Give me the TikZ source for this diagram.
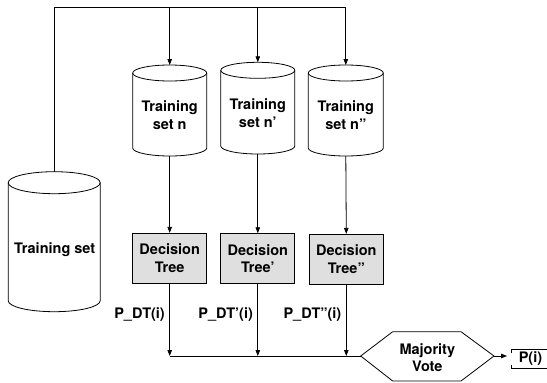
\documentclass[tikz,border=0pt]{standalone}
\usepackage{fontspec}
\setmainfont{TeX Gyre Heros}
\usetikzlibrary{arrows.meta}
\newcommand\drawcyl[5]{%
  \draw (#1,{#2+#5}) ellipse [x radius=#4pt, y radius=#5pt];
  \draw ({#1-#4},{#2+#5}) -- ({#1-#4},{#3-#5})
    arc [start angle=180, end angle=360, x radius=#4pt, y radius=#5pt]
    -- ({#1+#4},{#2+#5});}
\begin{document}
\begin{tikzpicture}[x=1pt,y=-1pt, line width=0.8pt,
  lbl/.style={font=\bfseries\fontsize{14.5}{17.5}\selectfont, align=center, inner sep=0pt},
  arr/.style={-{Triangle[length=6pt,width=4.5pt]}},
  dtbox/.style={draw, fill=gray!25, minimum width=74pt, minimum height=50pt, inner sep=0pt, lbl}]
\useasboundingbox (0,0) rectangle (547,383);
% cylinders
\drawcyl{54.2}{171.7}{311.7}{46}{11}
\drawcyl{169.7}{65}{156}{37}{8}
\drawcyl{257.8}{62.3}{154}{37}{8}
\drawcyl{345.8}{65}{156}{37.5}{8}
\coordinate (bigTop) at (54.2,171.7);
\coordinate (c1Top) at (169.7,65);   \coordinate (c1Bot) at (169.7,156);
\coordinate (c2Top) at (257.8,62.3); \coordinate (c2Bot) at (257.8,154);
\coordinate (c3Top) at (345.8,65);   \coordinate (c3Bot) at (345.8,156);
\node[lbl] (big) at (54.7,250) {Training set};
\node[lbl] (ts1) at (169.7,115.3) {Training\\set n};
\node[lbl] (ts2) at (257.8,113.2) {Training\\set n’};
\node[lbl] (ts3) at (345.8,115.3) {Training\\set n”};
% decision trees
\node[dtbox] (dt1) at (169.7,258.3) {Decision\\Tree};
\node[dtbox] (dt2) at (257.8,258.7) {Decision\\Tree’};
\node[dtbox] (dt3) at (346.3,259.3) {Decision\\Tree”};
% top distribution lines
\coordinate (tl) at (54.2,7.3);
\coordinate (t1) at (169.7,7.3);
\coordinate (t2) at (257.8,7.3);
\coordinate (t3) at (345.8,7.3);
\draw[arr] (bigTop) -- (tl) -- (t3) -- (c3Top);
\draw[arr] (t1) -- (c1Top);
\draw[arr] (t2) -- (c2Top);
% cylinders to trees
\draw[arr] (c1Bot) -- (dt1.north);
\draw[arr] (c2Bot) -- (dt2.north);
\draw[arr] (c3Bot) -- (dt3.north);
% collector
\coordinate (h1) at (169.7,356);
\coordinate (h2) at (257.8,356);
\coordinate (h3) at (346.3,356);
\draw[arr] (dt1.south) -- (h1);
\draw[arr] (dt2.south) -- (h2);
\draw[arr] (dt3.south) -- (h3);
\node[lbl, anchor=east] (p1) at (165.2,315) {P\_DT(i)};
\node[lbl, anchor=east] (p2) at (253.3,315) {P\_DT’(i)};
\node[lbl, anchor=east] (p3) at (341.7,315) {P\_DT”(i)};
% majority vote hexagon
\coordinate (vL) at (360.7,356);
\coordinate (vR) at (494,356);
\draw (vL) -- (392.7,331.7) -- (461,331.7) -- (vR) -- (461,381) -- (392.7,381) -- cycle;
\node[lbl] (vote) at (427.3,357.5) {Majority\\Vote};
\draw (h1) -- (vL);
% output
\node[lbl] (pout) at (530.5,359) {P(i)};
\coordinate (oL) at (507,356);
\draw[arr] (vR) -- (oL);
\draw (548,349.3) -- (511.7,349.3) -- (511.7,353.2);
\draw (548,368.3) -- (511.7,368.3) -- (511.7,364.5);
\end{tikzpicture}
\end{document}
